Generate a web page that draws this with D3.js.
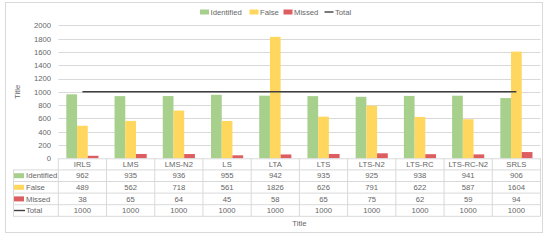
<!DOCTYPE html>
<html>
<head>
<meta charset="utf-8">
<script src="https://cdn.jsdelivr.net/npm/d3@7"></script>
<style>
html,body{margin:0;padding:0;background:#fff;}
svg{display:block;font-family:"Liberation Sans",Arial,sans-serif;}
</style>
</head>
<body>
<svg id="chart" width="550" height="240"></svg>
<script>
const categories = ["IRLS","LMS","LMS-N2","LS","LTA","LTS","LTS-N2","LTS-RC","LTS-RC-N2","SRLS"];
const identified = [962,935,936,955,942,935,925,938,941,906];
const falseVals  = [489,562,718,561,1826,626,791,622,587,1604];
const missed     = [38,65,64,45,58,65,75,62,59,94];
const total      = [1000,1000,1000,1000,1000,1000,1000,1000,1000,1000];
const yTicks     = [0,200,400,600,800,1000,1200,1400,1600,1800,2000];
const seriesNames = ["Identified","False","Missed"];
const seriesColors = ["#a6d08b","#ffd75e","#dd5e60"];
const lineName = "Total";
const lineColor = "#404040";

const svg = d3.select("#chart");
const textColor = "#666666";
const gridColor = "#d9d9d9";
const fs = 7.7;

// outer border
svg.append("rect").attr("x",5.5).attr("y",2.5).attr("width",537).attr("height",230)
  .attr("fill","#fff").attr("stroke",gridColor).attr("stroke-width",1);

const pLeft = 58.3, pRight = 540.5, pTop = 25.3, pBottom = 158.3;
const x0 = d3.scaleBand().domain(categories).range([pLeft,pRight]).paddingInner(0).paddingOuter(0);
const x1 = d3.scaleBand().domain(seriesNames).range([0,x0.bandwidth()]).paddingInner(0).paddingOuter(0.75);
const y = d3.scaleLinear().domain([0,2000]).range([pBottom,pTop]);

// gridlines
svg.append("g").selectAll("line").data(yTicks.filter(t=>t>0)).join("line")
  .attr("x1",pLeft).attr("x2",pRight).attr("y1",d=>Math.round(y(d))+0.5).attr("y2",d=>Math.round(y(d))+0.5)
  .attr("stroke",gridColor).attr("stroke-width",1);

// y axis labels
const yAxis = d3.axisLeft(y).tickValues(yTicks).tickFormat(d3.format("d")).tickSize(0).tickPadding(0);
const ya = svg.append("g").attr("transform",`translate(51,0)`).call(yAxis);
ya.select(".domain").remove();
ya.selectAll("text").attr("fill",textColor).attr("font-size",fs).attr("font-family","Liberation Sans, Arial, sans-serif");

// bars
const seriesData = [identified,falseVals,missed];
seriesData.forEach((vals,si)=>{
  svg.append("g").selectAll("rect").data(vals).join("rect")
    .attr("x",(d,i)=>x0(categories[i])+x1(seriesNames[si]))
    .attr("width",x1.bandwidth())
    .attr("y",d=>y(d))
    .attr("height",d=>y(0)-y(d))
    .attr("fill",seriesColors[si]);
});

// total line
const line = d3.line().x((d,i)=>x0(categories[i])+x0.bandwidth()/2).y(d=>y(d));
svg.append("path").datum(total).attr("d",line).attr("fill","none")
  .attr("stroke",lineColor).attr("stroke-width",1.6);

// data table
const rowH = 11.6;
const tableLeft = 13;
const headerTop = pBottom;
const rows = [
  {name:seriesNames[0], vals:identified, kind:"bar", color:seriesColors[0]},
  {name:seriesNames[1], vals:falseVals, kind:"bar", color:seriesColors[1]},
  {name:seriesNames[2], vals:missed, kind:"bar", color:seriesColors[2]},
  {name:lineName, vals:total, kind:"line", color:lineColor}
];
const tbl = svg.append("g");
const rowTop = i => headerTop + rowH*(i+1);
const tableBottom = rowTop(rows.length);
tbl.append("line").attr("x1",pLeft).attr("x2",pRight).attr("y1",headerTop+0.5).attr("y2",headerTop+0.5).attr("stroke",gridColor);
for(let i=0;i<=rows.length;i++){
  tbl.append("line").attr("x1",tableLeft).attr("x2",pRight).attr("y1",rowTop(i)).attr("y2",rowTop(i)).attr("stroke",gridColor);
}
tbl.append("line").attr("x1",tableLeft+0.5).attr("x2",tableLeft+0.5).attr("y1",rowTop(0)).attr("y2",tableBottom).attr("stroke",gridColor);
categories.concat([null]).forEach((c,i)=>{
  const xx = c===null ? pRight : x0(c);
  tbl.append("line").attr("x1",xx).attr("x2",xx).attr("y1",headerTop).attr("y2",tableBottom).attr("stroke",gridColor);
});
tbl.selectAll("text.hdr").data(categories).join("text").attr("class","hdr")
  .attr("x",d=>x0(d)+x0.bandwidth()/2).attr("y",headerTop+rowH/2+0.5)
  .attr("dy","0.35em").attr("text-anchor","middle").attr("fill",textColor).attr("font-size",fs).text(d=>d);
rows.forEach((r,ri)=>{
  const cy = rowTop(ri)+rowH/2;
  if(r.kind==="bar"){
    tbl.append("rect").attr("x",tableLeft+1).attr("y",cy-2.5).attr("width",10).attr("height",5).attr("fill",r.color);
  } else {
    tbl.append("line").attr("x1",tableLeft+1).attr("x2",tableLeft+12).attr("y1",cy).attr("y2",cy).attr("stroke",r.color).attr("stroke-width",1.4);
  }
  tbl.append("text").attr("x",tableLeft+13).attr("y",cy).attr("dy","0.35em").attr("fill",textColor).attr("font-size",fs).text(r.name);
  tbl.selectAll(null).data(r.vals).join("text")
    .attr("x",(d,i)=>x0(categories[i])+x0.bandwidth()/2).attr("y",cy).attr("dy","0.35em")
    .attr("text-anchor","middle").attr("fill",textColor).attr("font-size",fs).text(d=>d);
});

// axis titles
svg.append("text").attr("x",(pLeft+pRight)/2).attr("y",223).attr("dy","0.35em").attr("text-anchor","middle")
  .attr("fill",textColor).attr("font-size",fs).text("Title");
svg.append("text").attr("transform",`translate(17,${(pTop+pBottom)/2}) rotate(-90)`).attr("dy","0.35em").attr("text-anchor","middle")
  .attr("fill",textColor).attr("font-size",fs).text("Title");

// legend
const legendItems = [
  {name:seriesNames[0], kind:"bar", color:seriesColors[0], x:200},
  {name:seriesNames[1], kind:"bar", color:seriesColors[1], x:249.5},
  {name:seriesNames[2], kind:"bar", color:seriesColors[2], x:283.5},
  {name:lineName, kind:"line", color:lineColor, x:324.5}
];
const lg = svg.append("g");
const ly = 12;
legendItems.forEach(it=>{
  if(it.kind==="bar"){
    lg.append("rect").attr("x",it.x).attr("y",ly-2.5).attr("width",9).attr("height",5).attr("fill",it.color);
  } else {
    lg.append("line").attr("x1",it.x).attr("x2",it.x+9).attr("y1",ly).attr("y2",ly).attr("stroke",it.color).attr("stroke-width",1.4);
  }
  lg.append("text").attr("x",it.x+10.5).attr("y",ly).attr("dy","0.35em").attr("fill",textColor).attr("font-size",fs).text(it.name);
});
</script>
</body>
</html>
